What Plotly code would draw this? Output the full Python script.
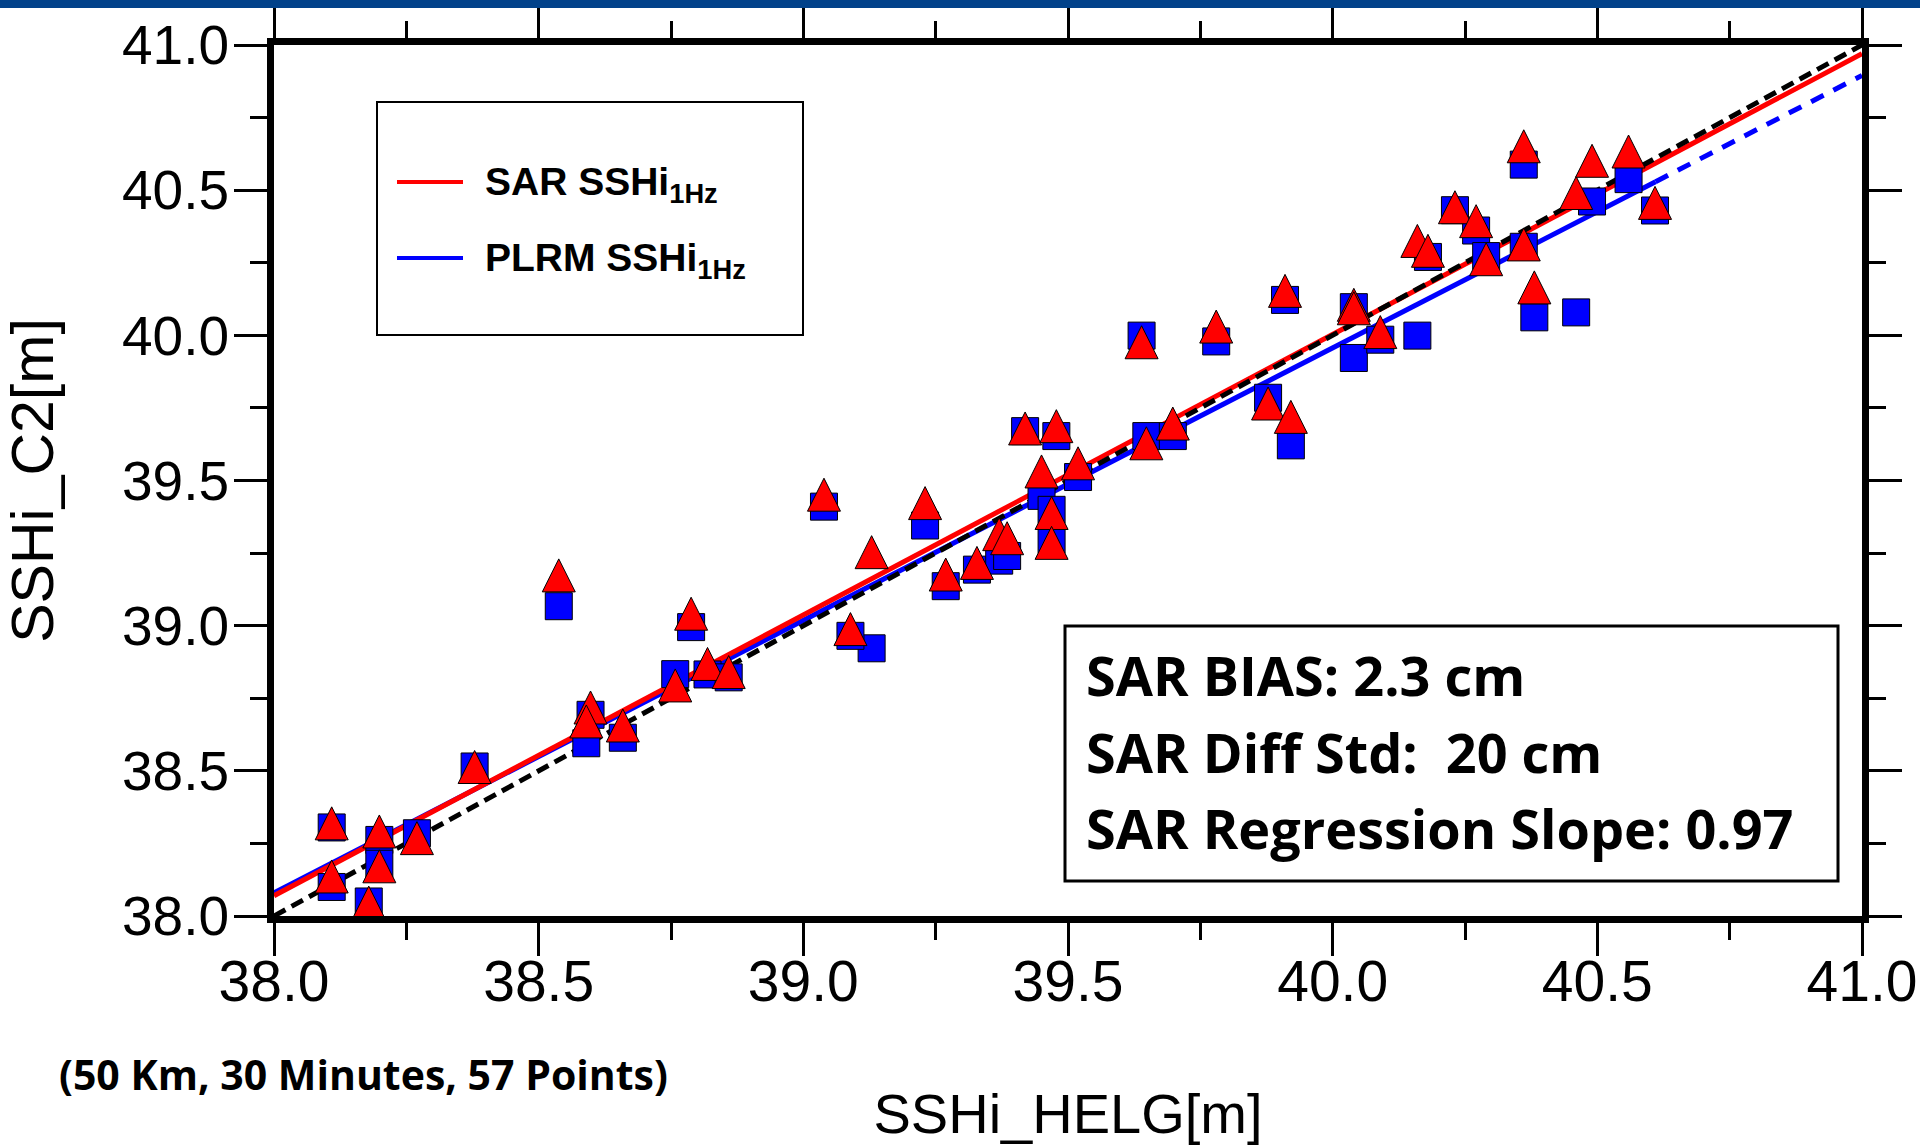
import plotly.graph_objects as go

# ---------------- data ----------------
helg_x = [38.109, 38.109, 38.179, 38.199, 38.199, 38.270, 38.379, 38.538, 38.598, 38.590,
          38.659, 38.758, 38.819, 38.859, 38.788, 39.039, 39.129, 39.089, 39.230, 39.269,
          39.328, 39.370, 39.385, 39.450, 39.469, 39.469, 39.419, 39.478, 39.519, 39.648,
          39.698, 39.639, 39.780, 39.910, 40.040, 40.040, 40.090, 40.160, 40.180, 40.231,
          40.271, 40.290, 40.361, 40.361, 40.381, 40.460, 40.490, 40.559, 40.609, 39.878,
          39.921]
plrm_y = [38.305, 38.100, 38.050, 38.262, 38.180, 38.285, 38.515, 39.067, 38.693, 38.595,
          38.614, 38.833, 38.832, 38.822, 38.995, 39.410, 38.922, 38.965, 39.345, 39.136,
          39.193, 39.224, 39.240, 39.447, 39.399, 39.296, 39.670, 39.653, 39.512, 39.653,
          39.653, 39.999, 39.979, 40.122, 40.097, 39.922, 39.985, 39.999, 40.270, 40.431,
          40.361, 40.273, 40.305, 40.588, 40.062, 40.079, 40.461, 40.538, 40.430, 39.785,
          39.621]
sar_y = [38.376, 38.193, 38.103, 38.348, 38.228, 38.325, 38.570, 39.230, 38.775, 38.727,
         38.713, 38.851, 38.925, 38.897, 39.098, 39.508, 39.310, 39.045, 39.479, 39.233,
         39.273, 39.372, 39.358, 39.588, 39.445, 39.342, 39.736, 39.744, 39.616, 39.685,
         39.753, 40.033, 40.087, 40.210, 40.162, 40.150, 40.068, 40.382, 40.348, 40.498,
         40.450, 40.319, 40.370, 40.708, 40.222, 40.547, 40.658, 40.690, 40.513, 39.822,
         39.776]

# regression / reference lines
one_to_one_x = [38.0, 41.0]
one_to_one_y = [38.0, 41.0]
sar_fit_x = [38.0, 41.0]
sar_fit_y = [38.07, 40.97]
plrm_fit_x = [38.0, 40.61]
plrm_fit_y = [38.08, 40.529]
plrm_ext_x = [40.61, 41.0]
plrm_ext_y = [40.529, 40.895]

x_tick_vals = [38.0, 38.5, 39.0, 39.5, 40.0, 40.5, 41.0]
x_tick_text = ["38.0", "38.5", "39.0", "39.5", "40.0", "40.5", "41.0"]
x_minor_vals = [38.25, 38.75, 39.25, 39.75, 40.25, 40.75]
y_tick_vals = [38.0, 38.5, 39.0, 39.5, 40.0, 40.5, 41.0]
y_tick_text = ["38.0", "38.5", "39.0", "39.5", "40.0", "40.5", "41.0"]
y_minor_vals = [38.25, 38.75, 39.25, 39.75, 40.25, 40.75]

legend_labels = ["<b>SAR SSHi<sub>1Hz</sub></b>", "<b>PLRM SSHi<sub>1Hz</sub></b>"]
stats_lines = ["SAR BIAS: 2.3 cm", "SAR Diff Std: \u00a020 cm", "SAR Regression Slope: 0.97"]
footnote = "(50 Km, 30 Minutes, 57 Points)"
x_title = "SSHi_HELG[m]"
y_title = "SSHi_C2[m]"

# ---------------- layout geometry ----------------
W, H = 1920, 1145
PL, PR, PT, PB = 274, 1862, 45, 916


def px_x(px):
    return (px - PL) / (PR - PL)


def px_y(py):
    return (PB - py) / (PB - PT)


RED = "#FF0000"
BLUE = "#0000FF"
SANS = "Liberation Sans, Arial, sans-serif"
BOLD2 = "Open Sans, Lato, sans-serif"

fig = go.Figure()

fig.add_trace(go.Scatter(x=plrm_fit_x, y=plrm_fit_y, mode="lines",
                         line=dict(color=BLUE, width=5), showlegend=False, hoverinfo="skip"))
fig.add_trace(go.Scatter(x=plrm_ext_x, y=plrm_ext_y, mode="lines",
                         line=dict(color=BLUE, width=5, dash="14px,11px"), showlegend=False,
                         hoverinfo="skip"))
fig.add_trace(go.Scatter(x=sar_fit_x, y=sar_fit_y, mode="lines",
                         line=dict(color=RED, width=5), showlegend=False, hoverinfo="skip"))
fig.add_trace(go.Scatter(x=one_to_one_x, y=one_to_one_y, mode="lines",
                         line=dict(color="black", width=5, dash="13px,7px"), showlegend=False,
                         hoverinfo="skip"))
fig.add_trace(go.Scatter(x=helg_x, y=plrm_y, mode="markers", name="PLRM",
                         marker=dict(symbol="square", size=27, color=BLUE,
                                     line=dict(color="black", width=1)),
                         showlegend=False))
fig.add_trace(go.Scatter(x=helg_x, y=sar_y, mode="markers", name="SAR",
                         marker=dict(symbol="arrow-up", size=33, color=RED,
                                     line=dict(color="black", width=1)),
                         showlegend=False))

shapes = [
    # top banner
    dict(type="rect", xref="paper", yref="paper", x0=px_x(0), x1=px_x(W), y0=px_y(8), y1=px_y(0),
         fillcolor="#02428A", line=dict(width=0), layer="above"),
    # legend box
    dict(type="rect", xref="paper", yref="paper", x0=px_x(377), x1=px_x(803), y0=px_y(335),
         y1=px_y(102), line=dict(color="black", width=2), fillcolor="white", layer="above"),
    dict(type="line", xref="paper", yref="paper", x0=px_x(397), x1=px_x(463), y0=px_y(182),
         y1=px_y(182), line=dict(color=RED, width=4), layer="above"),
    dict(type="line", xref="paper", yref="paper", x0=px_x(397), x1=px_x(463), y0=px_y(258),
         y1=px_y(258), line=dict(color=BLUE, width=4), layer="above"),
    # stats box
    dict(type="rect", xref="paper", yref="paper", x0=px_x(1065), x1=px_x(1838), y0=px_y(881),
         y1=px_y(626), line=dict(color="black", width=3), fillcolor="white", layer="above"),
]

annotations = []
for lab, yy in zip(legend_labels, [182, 258]):
    annotations.append(dict(text=lab, xref="paper", yref="paper", x=px_x(483), y=px_y(yy + 2),
                            xanchor="left", yanchor="middle", showarrow=False,
                            font=dict(family=SANS, size=39, color="black")))
for line, yy in zip(stats_lines, [675, 752, 828]):
    annotations.append(dict(text="<b>" + line + "</b>", xref="paper", yref="paper",
                            x=px_x(1084), y=px_y(yy), xanchor="left", yanchor="middle",
                            showarrow=False, font=dict(family=BOLD2, size=54, color="black")))
annotations.append(dict(text="<b>" + footnote + "</b>", xref="paper", yref="paper",
                        x=px_x(57), y=px_y(1074), xanchor="left", yanchor="middle",
                        showarrow=False, font=dict(family=BOLD2, size=41, color="black")))

axis_common = dict(showline=True, linewidth=7, linecolor="black", mirror="ticks",
                   ticks="outside", ticklen=33, tickwidth=3, tickcolor="black",
                   showgrid=False, zeroline=False, automargin=False,
                   ticklabeloverflow="allow")

fig.update_layout(
    template="none",
    width=W, height=H, autosize=False,
    margin=dict(l=PL, r=W - PR, t=PT, b=H - PB, pad=0),
    paper_bgcolor="white", plot_bgcolor="white",
    showlegend=False,
    xaxis=dict(range=[38.0, 41.0], tickmode="array", tickvals=x_tick_vals, ticktext=x_tick_text,
               tickfont=dict(family=SANS, size=57, color="black"),
               ticklabelstandoff=-23,
               minor=dict(tickmode="array", tickvals=x_minor_vals, ticks="outside", ticklen=17,
                          tickwidth=3, tickcolor="black", showgrid=False),
               title=dict(text=x_title, font=dict(family=SANS, size=56, color="black"),
                          standoff=126),
               **axis_common),
    yaxis=dict(range=[38.0, 41.0], tickmode="array", tickvals=y_tick_vals, ticktext=y_tick_text,
               tickfont=dict(family=SANS, size=55, color="black"),
               ticklabelstandoff=-6,
               minor=dict(tickmode="array", tickvals=y_minor_vals, ticks="outside", ticklen=17,
                          tickwidth=3, tickcolor="black", showgrid=False),
               title=dict(text=y_title, font=dict(family=SANS, size=59, color="black"),
                          standoff=57),
               **axis_common),
    shapes=shapes,
    annotations=annotations,
)

fig.write_html("out.html")
